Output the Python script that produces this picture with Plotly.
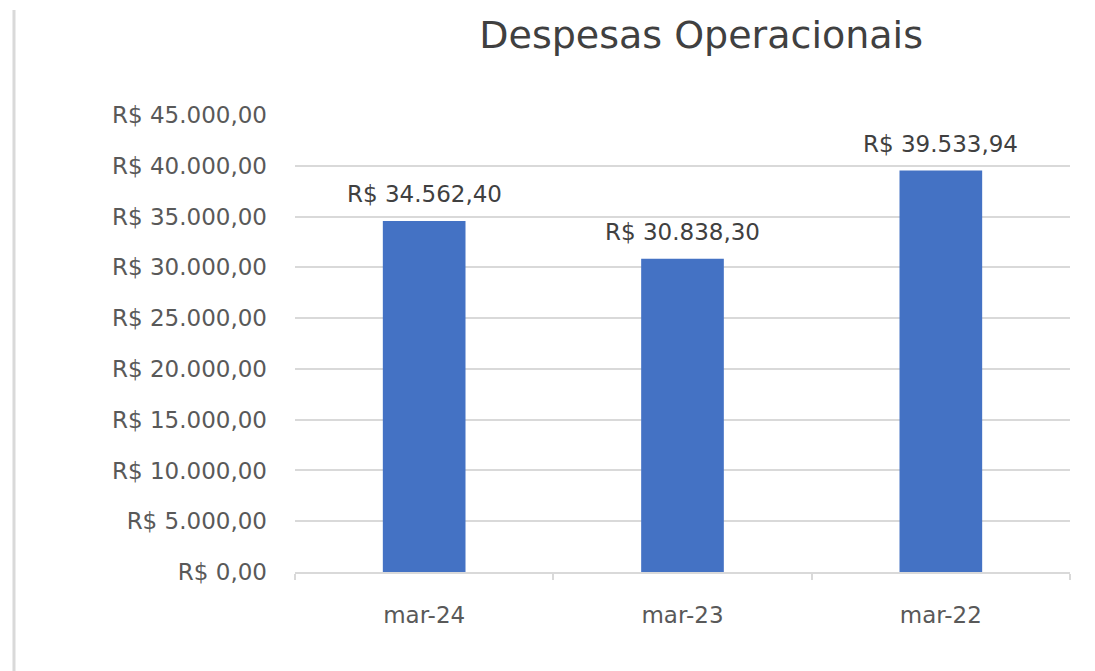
import plotly.graph_objects as go

meses = ["mar-24", "mar-23", "mar-22"]
despesas = [34562.40, 30838.30, 39533.94]
y_ticks = [0, 5000, 10000, 15000, 20000, 25000, 30000, 35000, 40000, 45000]


def brl(v):
    # formato brasileiro: R$ 34.562,40
    s = f"{v:,.2f}".replace(",", "X").replace(".", ",").replace("X", ".")
    return "R$ " + s


fig = go.Figure()
fig.add_trace(go.Bar(x=meses, y=despesas, marker_color="#4472C4",
                     marker_line_width=0, hoverinfo="skip"))

# rotulos acima das barras
for m, v in zip(meses, despesas):
    fig.add_annotation(x=m, y=v, text=brl(v), showarrow=False, yanchor="bottom",
                       yshift=12, font=dict(family="DejaVu Sans", size=23, color="#404040"))

# borda esquerda do grafico
fig.add_shape(type="line", xref="paper", yref="paper",
              x0=-0.3626, x1=-0.3626, y0=1.2297, y1=-0.22, line=dict(color="#d9d9d9", width=3))

# a pagina tem margem de 8px no body, por isso l/t menores
fig.update_layout(
    width=1095, height=671,
    margin=dict(l=287, r=33, t=107, b=107),
    paper_bgcolor="white", plot_bgcolor="white",
    bargap=0.68,
    showlegend=False,
    title=dict(text="Despesas Operacionais", x=0.633, xanchor="center", y=0.96, yanchor="middle",
               font=dict(family="DejaVu Sans", size=38, color="#404040")),
    font=dict(family="DejaVu Sans", color="#595959"),
)
fig.update_yaxes(range=[0, 45000], tickvals=y_ticks, ticktext=[brl(v) for v in y_ticks],
                 showgrid=True, gridcolor="#d9d9d9", gridwidth=2, zeroline=False,
                 showline=False, ticks="", ticklabelstandoff=27,
                 tickfont=dict(size=23, color="#595959"))
fig.update_xaxes(showline=True, linecolor="#d9d9d9", linewidth=2, ticks="outside",
                 tickson="boundaries", ticklen=6, tickcolor="#d9d9d9", tickwidth=2,
                 ticklabelstandoff=21, tickfont=dict(size=23, color="#595959"))

fig.write_html("out.html")
